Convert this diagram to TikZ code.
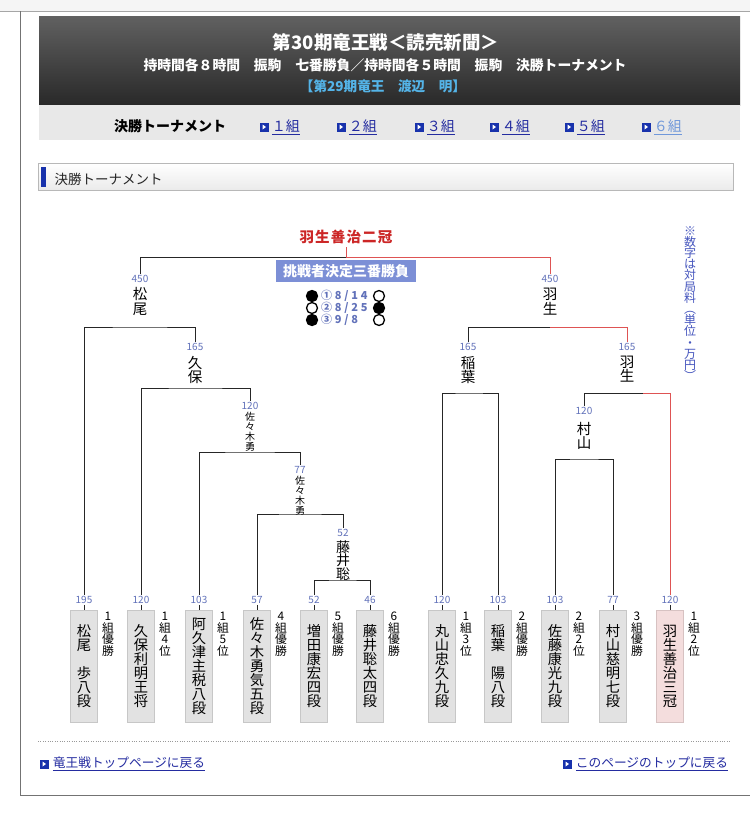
\documentclass[tikz,border=0pt]{standalone}
\usepackage{fontspec}
\setmainfont{Noto Sans CJK JP}
\usetikzlibrary{positioning}

\definecolor{numblue}{RGB}{98,114,186}
\definecolor{winred}{RGB}{222,84,84}
\definecolor{champred}{RGB}{204,38,38}
\definecolor{leafgray}{RGB}{226,226,226}
\definecolor{leafpink}{RGB}{244,221,221}
\definecolor{boxblue}{RGB}{124,143,214}
\definecolor{iconblue}{RGB}{24,50,172}
\definecolor{linkblue}{RGB}{36,44,160}
\definecolor{linkpale}{RGB}{112,152,218}
\definecolor{noteblue}{RGB}{70,86,190}
\definecolor{skyblue}{RGB}{84,180,232}

\begin{document}
\begin{tikzpicture}[x=1pt, y=-1pt, font=\fontsize{12}{12}\selectfont,
  bline/.style={draw=black!85, line width=1pt},
  rline/.style={draw=winred, line width=1pt},
  num/.style={font=\fontsize{10}{10}\selectfont, text=numblue, inner sep=1pt},
  tate/.style 2 args={align=center, inner sep=0pt, font=\fontsize{#1}{#2}\selectfont},
  leaf/.style={draw=#1!88!black, fill=#1, minimum width=27, minimum height=112, inner sep=0pt,
    align=center, font=\fontsize{14.3}{14}\selectfont},
  leaf/.default=leafgray,
  side/.style={anchor=north, align=center, inner sep=0pt, font=\fontsize{11.8}{11.5}\selectfont},
  icon/.style={fill=iconblue, minimum size=9, inner sep=0pt,
    path picture={\fill[white, rotate around={#1:(path picture bounding box.center)}]
      ([xshift=-1.5pt, yshift=2.5pt]path picture bounding box.center) -- ++(0pt,-5pt) -- ++(3.5pt,2.5pt) -- cycle;}},
  icon/.default=0,
  lnk/.style={text=linkblue, inner sep=0pt, font=\fontsize{#1}{#1}\selectfont},
  lnk/.default=14,
  result/.style={anchor=west, text=numblue, inner sep=0pt,
    font=\bfseries\fontsize{11}{11}\selectfont\addfontfeature{LetterSpace=25}},
  stone/.style={circle, draw=black, line width=1.3pt, minimum size=11, inner sep=0pt, fill=#1}]
  \useasboundingbox (0,0) rectangle (750,819);
  \fill[white] (0,0) rectangle (750,819);

  % page frame
  \fill[black!4] (0,0) rectangle (750,11);
  \draw[black!35] (0,11) -- (750,11);
  \draw[black!55] (20,11) -- (20,795) -- (750,795);

  % header
  \shade[top color=black!62, bottom color=black!84] (39,16) rectangle (740,105);
  \fill[black!9] (39,105) rectangle (740,140);
  \node[text=white, font=\bfseries\fontsize{18.5}{19}\selectfont] (title) at (386,42) {第30期竜王戦＜読売新聞＞};
  \node[text=white, font=\bfseries\fontsize{13.8}{14}\selectfont] (rules) at (385,65)
    {持時間各８時間　振駒　七番勝負／持時間各５時間　振駒　決勝トーナメント};
  \node[text=skyblue, font=\bfseries\fontsize{13.6}{14}\selectfont] (holder) at (383,86) {【第29期竜王　渡辺　明】};
  \node[font=\bfseries\fontsize{14}{14}\selectfont] (navhead) at (170,126) {決勝トーナメント};
  \foreach \k/\d/\x/\cc in {1/１/264/linkblue, 2/２/341/linkblue, 3/３/419/linkblue,
                            4/４/494/linkblue, 5/５/569/linkblue, 6/６/646/linkpale} {
    \node[icon] (ic\k) at (\x,127) {};
    \node[lnk, text=\cc, right=3pt of ic\k] (grp\k) {\underline{\d 組}};
  }

  % section title
  \shade[top color=white, bottom color=black!8] (38,163) rectangle (733,190);
  \draw[black!28] (38,163) rectangle (733,190);
  \fill[iconblue] (41,167) rectangle (46,187);
  \node[anchor=west, text=black!85, font=\fontsize{13.5}{14}\selectfont] (sechead) at (51,179) {決勝トーナメント};

  % final and challenger series
  \node[text=champred, font=\bfseries\fontsize{14.5}{15}\selectfont\addfontfeature{LetterSpace=8}] (ch) at (346,237) {羽生善治二冠};
  \node[fill=boxblue, text=white, font=\bfseries\fontsize{14}{14}\selectfont, minimum width=140,
    minimum height=22, inner sep=0pt] (cbox) at (346,271) {挑戦者決定三番勝負};
  \node[stone=black] (r1a) at (312,296) {};
  \node[result] (r1) at (321,296) {①8/14};
  \node[stone=white] (r1b) at (379,296) {};
  \node[stone=white] (r2a) at (312,308) {};
  \node[result] (r2) at (321,308) {②8/25};
  \node[stone=black] (r2b) at (379,308) {};
  \node[stone=black] (r3a) at (312,320) {};
  \node[result] (r3) at (321,320) {③9/8};
  \node[stone=white] (r3b) at (379,320) {};

  \node[tate={12}{11.2}, text=noteblue, anchor=north] (note) at (690,226)
    {※\\数\\字\\は\\対\\局\\料\\︵\\単\\位\\・\\万\\円\\︶};

  % players
  \foreach \i/\x/\v/\nm/\lb/\c in {
    1/84/195/{松\\尾\\[14pt]歩\\八\\段}/{1\\組\\優\\勝}/leafgray,
    2/141/120/{久\\保\\利\\明\\王\\将}/{1\\組\\4\\位}/leafgray,
    3/199/103/{阿\\久\\津\\主\\税\\八\\段}/{1\\組\\5\\位}/leafgray,
    4/257/57/{佐\\々\\木\\勇\\気\\五\\段}/{4\\組\\優\\勝}/leafgray,
    5/314/52/{増\\田\\康\\宏\\四\\段}/{5\\組\\優\\勝}/leafgray,
    6/370/46/{藤\\井\\聡\\太\\四\\段}/{6\\組\\優\\勝}/leafgray,
    7/442/120/{丸\\山\\忠\\久\\九\\段}/{1\\組\\3\\位}/leafgray,
    8/498/103/{稲\\葉\\[14pt]陽\\八\\段}/{2\\組\\優\\勝}/leafgray,
    9/555/103/{佐\\藤\\康\\光\\九\\段}/{2\\組\\2\\位}/leafgray,
    10/613/77/{村\\山\\慈\\明\\七\\段}/{3\\組\\優\\勝}/leafgray,
    11/670/120/{羽\\生\\善\\治\\三\\冠}/{1\\組\\2\\位}/leafpink} {
    \node[num] (n\i) at (\x,600) {\v};
    \node[leaf=\c] (b\i) at (\x,666) {\nm};
    \node[side] (s\i) at (\x+24,612) {\lb};
    \draw[bline] (n\i) -- (b\i);
  }

  % winners of each round
  \node[num] (pM) at (140,279) {450};
  \node[tate={14.5}{15}, below=3.5pt of pM] (nM) {松\\尾};
  \node[num] (pK) at (195,347) {165};
  \node[tate={14.5}{14}, below=4pt of pK] (nK) {久\\保};
  \node[num] (pS1) at (250,406) {120};
  \node[tate={10}{10}, below=1pt of pS1] (nS1) {佐\\々\\木\\勇};
  \node[num] (pS2) at (300,470) {77};
  \node[tate={10}{10}, below=1pt of pS2] (nS2) {佐\\々\\木\\勇};
  \node[num] (pF) at (343,533) {52};
  \node[tate={14}{13.5}, below=2.5pt of pF] (nF) {藤\\井\\聡};
  \node[num] (pH1) at (550,279) {450};
  \node[tate={14.5}{15}, below=3.5pt of pH1] (nH1) {羽\\生};
  \node[num] (pI) at (468,347) {165};
  \node[tate={14.5}{14}, below=4pt of pI] (nI) {稲\\葉};
  \node[num] (pH2) at (627,347) {165};
  \node[tate={14.5}{14}, below=4pt of pH2] (nH2) {羽\\生};
  \node[num] (pR) at (584,411) {120};
  \node[tate={14.5}{14}, below=6pt of pR] (nR) {村\\山};

  \coordinate (j0) at (346,257);
  \coordinate (j1) at (140,327);
  \coordinate (j2) at (195,388);
  \coordinate (j3) at (250,452);
  \coordinate (j4) at (300,514);
  \coordinate (j5) at (343,580);
  \coordinate (j6) at (550,327);
  \coordinate (j7) at (468,393);
  \coordinate (j8) at (643,393);
  \coordinate (j9) at (584,459);

  \draw[bline] (pM) |- (j0);
  \draw[rline] (ch) -- (j0) -| (pH1);
  \draw[bline] (n1) |- (j1) -| (pK);
  \draw[bline] (n2) |- (j2) -| (pS1);
  \draw[bline] (n3) |- (j3) -| (pS2);
  \draw[bline] (n4) |- (j4) -| (pF);
  \draw[bline] (n5) |- (j5) -| (n6);
  \draw[bline] (pI) |- (j6);
  \draw[rline] (j6) -| (pH2);
  \draw[bline] (n7) |- (j7) -| (n8);
  \draw[bline] (pR) |- (j8);
  \draw[rline] (j8) -| (n11);
  \draw[bline] (n9) |- (j9) -| (n10);

  % footer
  \draw[black!40, dotted] (38,741) -- (731,741);
  \node[icon=180] (backic) at (44,764) {};
  \node[lnk=12.7, right=4pt of backic] (back) {\underline{竜王戦トップページに戻る}};
  \node[icon=90] (topic) at (567,764) {};
  \node[lnk=12.7, right=4pt of topic] (totop) {\underline{このページのトップに戻る}};
\end{tikzpicture}
\end{document}
